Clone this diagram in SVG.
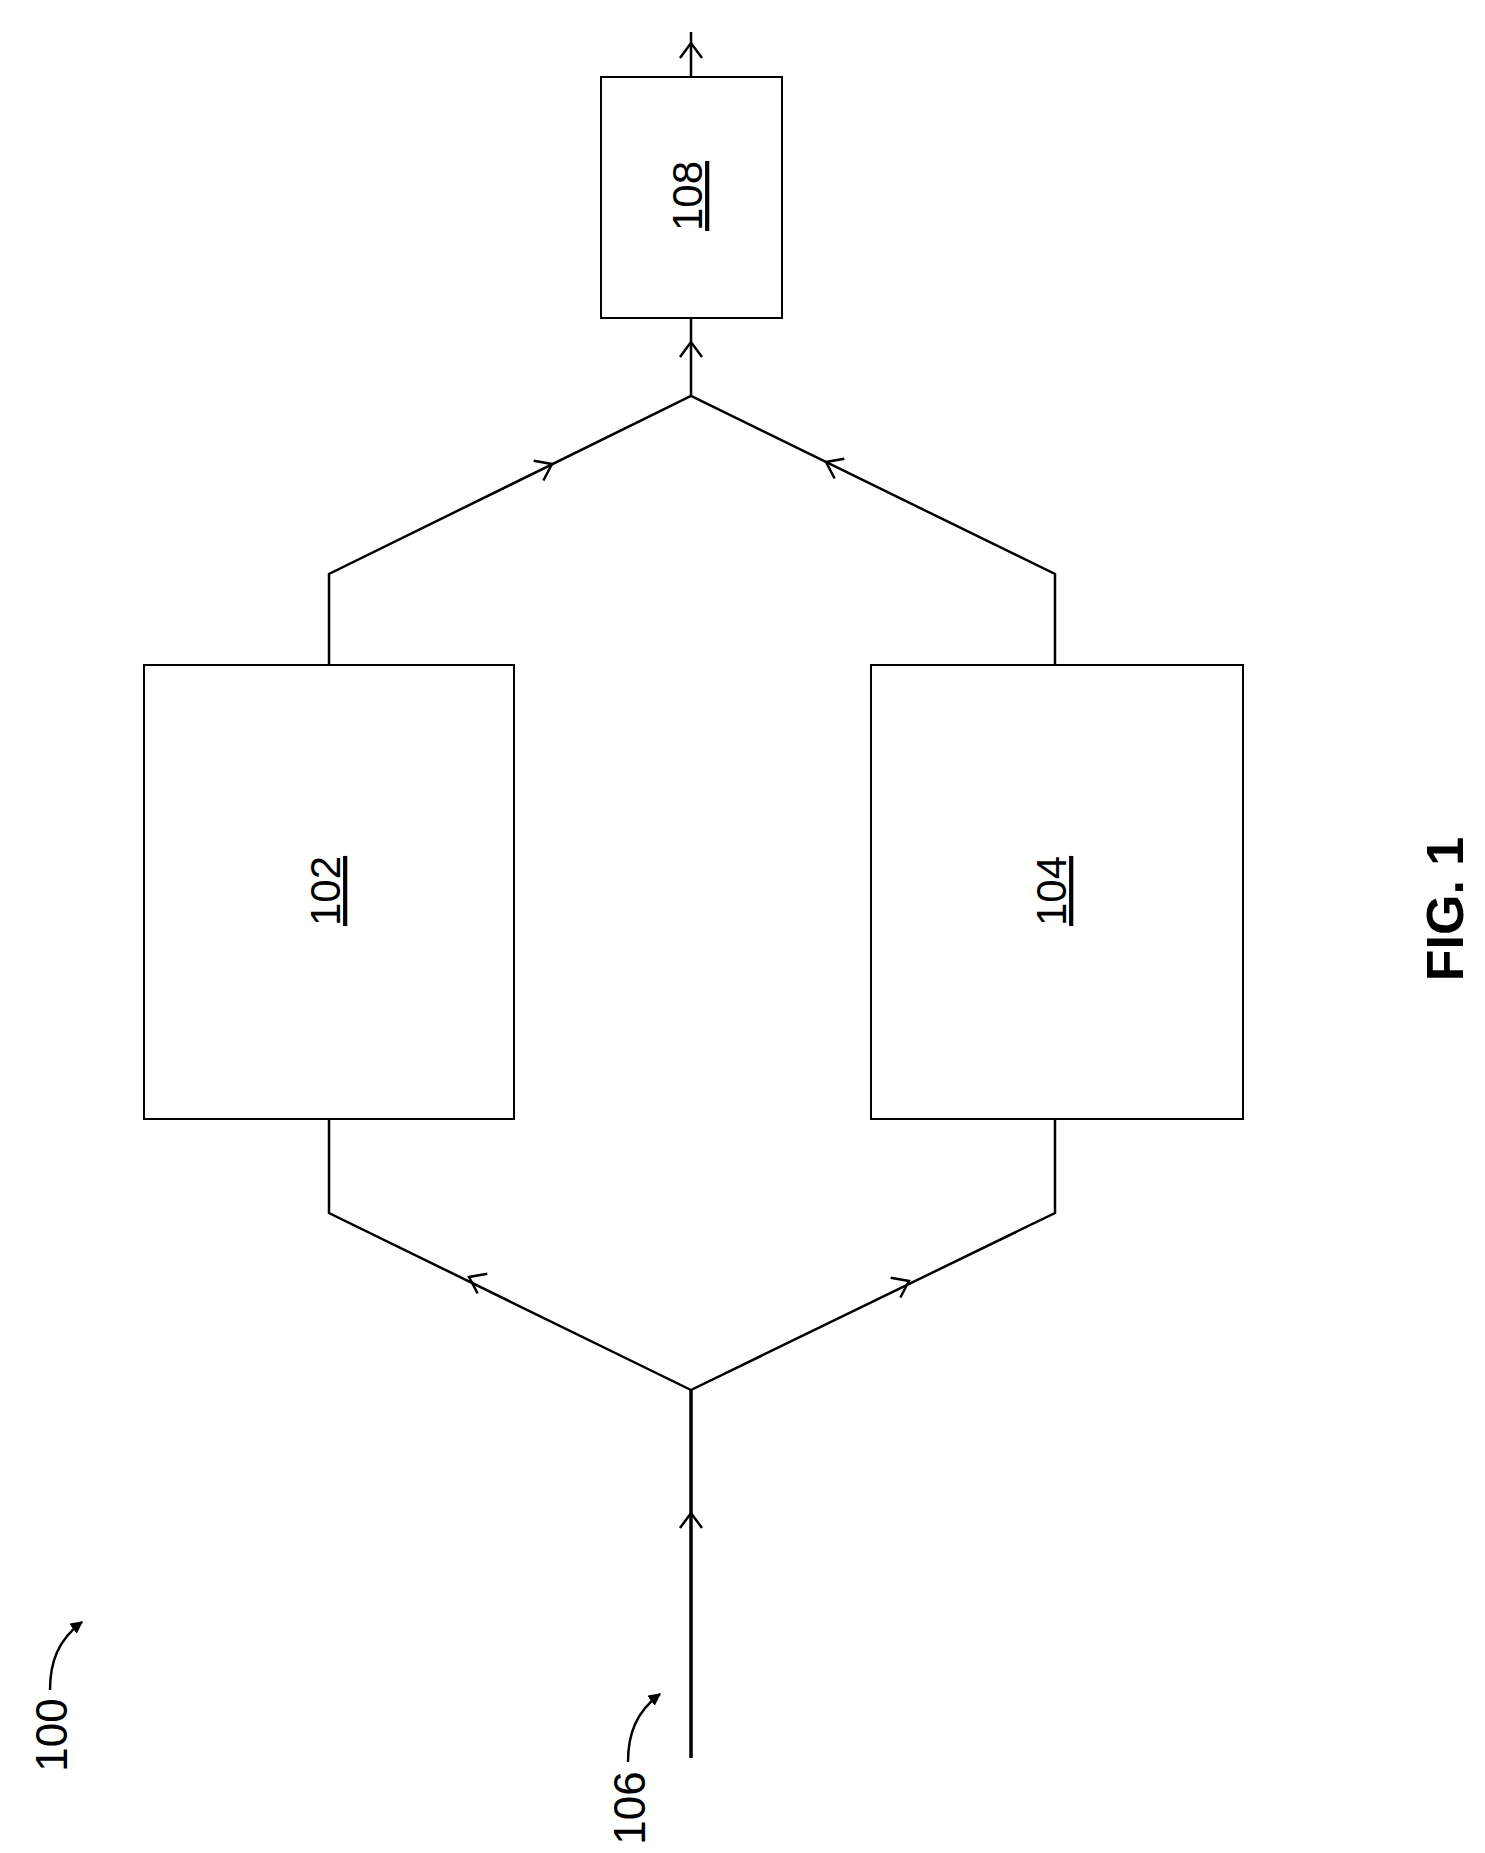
<svg xmlns="http://www.w3.org/2000/svg" width="1485" height="1853" viewBox="0 0 1485 1853">
<style>
.b{fill:#fff;stroke:#000;stroke-width:2}
.l{fill:none;stroke:#000;stroke-width:2.5}
.t{font-family:"Liberation Sans",Arial,sans-serif;font-size:42px;text-anchor:middle;dominant-baseline:middle}
</style>
<defs>
<path id="ch" d="M-11,15 L0,0 L11,15" fill="none" stroke="#000" stroke-width="2.5"/>
<marker id="ah" viewBox="0 0 10 10" refX="9" refY="5" markerWidth="5" markerHeight="5" orient="auto"><path d="M0,0 L10,5 L0,10 Z"/></marker>
</defs>
<rect width="1485" height="1853" fill="#fff"/>
<g id="connectors">
<path class="l" d="M691,1758 V1390" style="stroke-width:3.5"/>
<path class="l" d="M691,1390 L329,1213 V1119 M691,1390 L1055,1213 V1119"/>
<path class="l" d="M329,665 V574 L691,396 L1055,574 V665 M691,396 V318 M691,77 V32" />
<use href="#ch" x="691" y="1513"/>
<use href="#ch" transform="translate(469,1277) rotate(-63.9)"/>
<use href="#ch" transform="translate(909,1281) rotate(63.9)"/>
<use href="#ch" transform="translate(552,464) rotate(63.8)"/>
<use href="#ch" transform="translate(826,462) rotate(-63.8)"/>
<use href="#ch" x="691" y="342"/>
<use href="#ch" x="691" y="43"/>
</g>
<g id="n102"><rect class="b" x="144" y="665" width="370" height="454"/><text class="t" transform="translate(329,891) rotate(-90)" text-decoration="underline">102</text></g>
<g id="n104"><rect class="b" x="871" y="665" width="372" height="454"/><text class="t" transform="translate(1055,891) rotate(-90)" text-decoration="underline">104</text></g>
<g id="n108"><rect class="b" x="601" y="77" width="181" height="241"/><text class="t" transform="translate(691,196) rotate(-90)" text-decoration="underline">108</text></g>
<g id="labels">
<text class="t" transform="translate(55,1735) rotate(-90)" style="font-size:44px">100</text>
<path class="l" d="M50,1690 C50,1662 58,1640 82,1622" marker-end="url(#ah)"/>
<text class="t" transform="translate(633,1808) rotate(-90)" style="font-size:44px">106</text>
<path class="l" d="M628,1762 C628,1734 636,1712 660,1694" marker-end="url(#ah)"/>
<text class="t" transform="translate(1449,909) rotate(-90)" style="font-size:52px;font-weight:bold">FIG. 1</text>
</g>
</svg>
